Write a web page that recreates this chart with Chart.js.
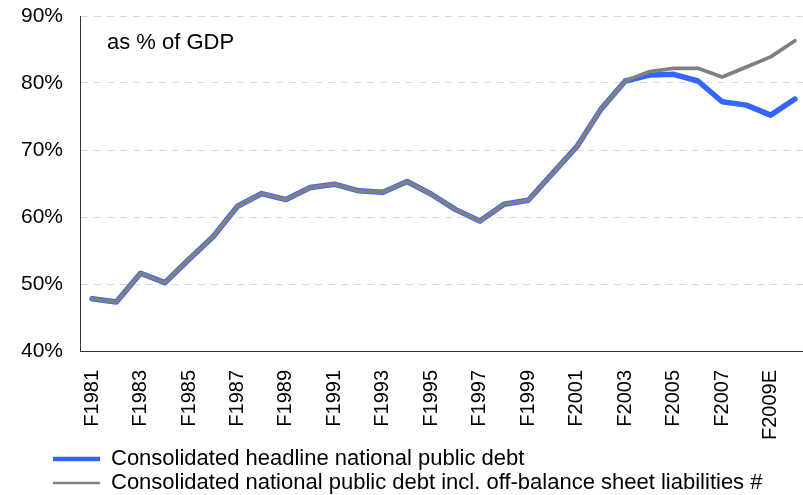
<!DOCTYPE html>
<html><head><meta charset="utf-8">
<script src="https://cdn.jsdelivr.net/npm/chart.js@4.4.1/dist/chart.umd.min.js"></script>
<style>
html,body{margin:0;padding:0;overflow:hidden;background:#fff;width:803px;height:495px}
#wrap{position:relative;width:807px;height:495px}
</style></head>
<body><div id="wrap"><canvas id="c"></canvas></div>
<script>
const categories = ['F1981','F1982','F1983','F1984','F1985','F1986','F1987','F1988','F1989','F1990',
  'F1991','F1992','F1993','F1994','F1995','F1996','F1997','F1998','F1999','F2000',
  'F2001','F2002','F2003','F2004','F2005','F2006','F2007','F2008','F2009E','F2010E'];
const headlineDebt = [47.8,47.3,51.6,50.2,53.7,57.1,61.6,63.5,62.6,64.4,
  64.9,63.9,63.7,65.3,63.4,61.1,59.4,61.9,62.5,66.5,
  70.5,76.1,80.3,81.2,81.3,80.3,77.2,76.7,75.2,77.6];
const inclOffBalanceDebt = [47.8,47.3,51.6,50.2,53.7,57.1,61.6,63.5,62.6,64.4,
  64.9,63.9,63.7,65.3,63.4,61.1,59.4,61.9,62.5,66.5,
  70.5,76.1,80.3,81.7,82.2,82.2,80.9,82.4,83.9,86.3];
const seriesNames = ['Consolidated headline national public debt',
  'Consolidated national public debt incl. off-balance sheet liabilities #'];
const yMin = 40, yMax = 90, yStep = 10;
const noteText = 'as % of GDP';

const FONT = '"Liberation Sans", Arial, sans-serif';

const notePlugin = {
  id: 'note',
  afterDatasetsDraw(chart) {
    const {ctx, chartArea} = chart;
    ctx.save();
    ctx.font = '22px ' + FONT;
    ctx.fillStyle = '#000';
    ctx.textBaseline = 'alphabetic';
    ctx.textAlign = 'left';
    ctx.fillText(noteText, chartArea.left + 27, chartArea.top + 33);
    ctx.restore();
  }
};
const legendPos = {
  id: 'legendPos',
  afterLayout(chart) {
    const lg = chart.legend;
    if (!lg) return;
    lg.left = 53 - 2;
    lg.top = chart.height - 49;
  }
};

new Chart(document.getElementById('c'), {
  type: 'line',
  data: {
    labels: categories,
    datasets: [
      {label: seriesNames[0], data: headlineDebt, borderColor: '#3366FF', backgroundColor: '#3366FF',
       borderWidth: 5.5, pointRadius: 0, tension: 0, order: 2, borderJoinStyle: 'round', borderCapStyle: 'round'},
      {label: seriesNames[1], data: inclOffBalanceDebt, borderColor: '#808080', backgroundColor: '#808080',
       borderWidth: 3.75, pointRadius: 0, tension: 0, order: 1, borderJoinStyle: 'round', borderCapStyle: 'round'}
    ]
  },
  options: {
    responsive: true,
    maintainAspectRatio: false,
    animation: false,
    layout: {padding: {top: 16, left: 0, right: 0, bottom: -4}},
    scales: {
      x: {
        offset: true,
        grid: {display: true, drawOnChartArea: false, drawTicks: false},
        border: {display: true, color: '#333', width: 1},
        ticks: {
          autoSkip: false, maxRotation: 90, minRotation: 90, padding: 19,
          color: '#000', font: {family: FONT, size: 20},
          callback: (v, i) => (i % 2 === 0 ? categories[i] : '')
        },
        afterFit: (s) => { s.height = 90; s.paddingLeft = 0; s.paddingRight = 0; s.paddingTop = 0; s.paddingBottom = 0; }
      },
      y: {
        min: yMin, max: yMax,
        grid: {color: '#d9d9d9', lineWidth: 1, drawTicks: false},
        border: {display: true, color: '#333', width: 1, dash: [7, 6]},
        ticks: {
          stepSize: yStep, padding: 17, color: '#000', font: {family: FONT, size: 21},
          callback: (v) => v + '%'
        },
        afterFit: (s) => { s.width = 80; s.paddingLeft = 0; s.paddingRight = 0; s.paddingTop = 0; s.paddingBottom = 0; }
      }
    },
    plugins: {
      tooltip: {enabled: false},
      legend: {
        display: true, position: 'bottom', align: 'start',
        labels: {
          boxWidth: 47, boxHeight: 0, padding: 2, color: '#000',
          font: {family: FONT, size: 22},
          generateLabels(chart) {
            return chart.data.datasets.map((ds, i) => ({
              text: ds.label, fillStyle: ds.borderColor, strokeStyle: ds.borderColor,
              lineWidth: i === 0 ? 4.5 : 2.5, lineCap: i === 0 ? 'round' : 'butt',
              hidden: false, datasetIndex: i, fontColor: '#000'
            }));
          }
        }
      }
    }
  },
  plugins: [notePlugin, legendPos]
});
</script></body></html>
